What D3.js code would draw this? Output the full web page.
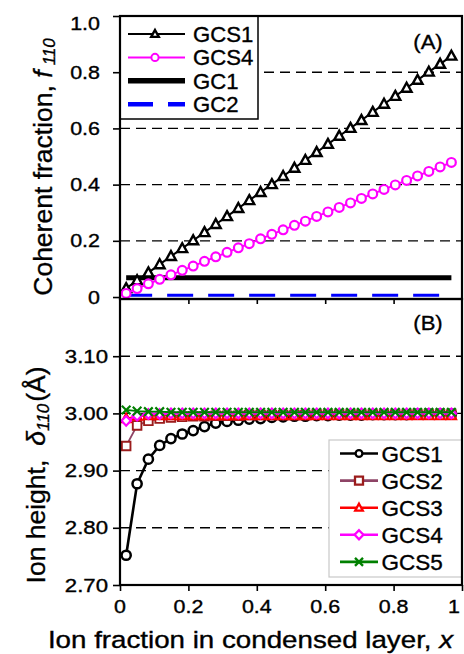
<!DOCTYPE html>
<html>
<head>
<meta charset="utf-8">
<script src="https://cdn.jsdelivr.net/npm/d3@7"></script>
<style>
  body { margin: 0; background: #fff; }
  svg { display: block; font-family: "Liberation Sans", Arial, sans-serif; }
  svg text { stroke: #000; stroke-width: 0.35px; }
</style>
</head>
<body>
<svg id="chart" width="464" height="654"></svg>
<script>
// Ion fraction in the condensed layer (shared by every series)
const xFrac = [0.018, 0.050, 0.083, 0.116, 0.149, 0.182, 0.214, 0.247, 0.280, 0.313,
               0.346, 0.378, 0.411, 0.444, 0.477, 0.510, 0.542, 0.575, 0.608, 0.641,
               0.674, 0.706, 0.739, 0.772, 0.805, 0.838, 0.870, 0.903, 0.936, 0.969];

// (A) coherent fraction f110
const fGCS1 = [0.031, 0.059, 0.087, 0.116, 0.145, 0.173, 0.201, 0.230, 0.259, 0.287,
               0.316, 0.344, 0.373, 0.401, 0.430, 0.459, 0.487, 0.515, 0.544, 0.573,
               0.601, 0.629, 0.658, 0.687, 0.715, 0.744, 0.772, 0.801, 0.829, 0.858];
const fGCS4 = [0.013, 0.030, 0.047, 0.063, 0.079, 0.095, 0.110, 0.127, 0.143, 0.159,
               0.175, 0.190, 0.207, 0.223, 0.239, 0.255, 0.270, 0.287, 0.303, 0.319,
               0.335, 0.351, 0.367, 0.383, 0.399, 0.415, 0.431, 0.447, 0.463, 0.479];
// GC models are flat: values at the first and last x
const fGC1 = [0.069, 0.069];
const fGC2 = [0.006, 0.006];

// (B) ion height delta110 (Angstrom)
const dGCS1 = [2.752, 2.877, 2.920, 2.944, 2.956, 2.964, 2.970, 2.977, 2.983, 2.986,
               2.988, 2.990, 2.991, 2.993, 2.994, 2.995, 2.995, 2.996, 2.996, 2.997,
               2.997, 2.997, 2.998, 2.998, 2.998, 2.998, 2.999, 2.999, 2.999, 2.999];
const dGCS2 = [2.943, 2.979, 2.987, 2.991, 2.993, 2.994, 2.995, 2.995, 2.996, 2.996,
               2.996, 2.997, 2.997, 2.997, 2.997, 2.997, 2.997, 2.998, 2.998, 2.998,
               2.998, 2.998, 2.998, 2.998, 2.998, 2.998, 2.998, 2.998, 2.998, 2.998];
const dGCS3 = [2.991, 2.995, 2.996, 2.996, 2.996, 2.996, 2.996, 2.996, 2.996, 2.996,
               2.996, 2.996, 2.996, 2.996, 2.996, 2.996, 2.996, 2.996, 2.996, 2.996,
               2.996, 2.996, 2.996, 2.996, 2.996, 2.996, 2.996, 2.996, 2.996, 2.996];
const dGCS4 = [2.987, 2.996, 2.999, 2.999, 3.000, 3.000, 3.000, 3.000, 3.000, 3.000,
               3.000, 3.000, 3.000, 3.000, 3.000, 3.000, 3.000, 3.000, 3.000, 3.000,
               3.000, 3.000, 3.000, 3.000, 3.000, 3.000, 3.000, 3.000, 3.000, 3.000];
const dGCS5 = [3.006, 3.004, 3.003, 3.003, 3.002, 3.002, 3.002, 3.002, 3.002, 3.002,
               3.002, 3.002, 3.002, 3.002, 3.002, 3.002, 3.002, 3.002, 3.002, 3.002,
               3.002, 3.002, 3.002, 3.002, 3.002, 3.002, 3.002, 3.002, 3.002, 3.002];

// Ticks
const xTicks = [0, 0.2, 0.4, 0.6, 0.8, 1];
const xTickLabels = ["0", "0.2", "0.4", "0.6", "0.8", "1"];
const fTicks = [0, 0.2, 0.4, 0.6, 0.8, 1.0];
const fTickLabels = ["0", "0.2", "0.4", "0.6", "0.8", "1.0"];
const fGrid = [0.2, 0.4, 0.6, 0.8];
const dTicks = [2.7, 2.8, 2.9, 3.0, 3.1];
const dTickLabels = ["2.70", "2.80", "2.90", "3.00", "3.10"];
const dGrid = [2.8, 2.9, 3.0, 3.1];

// ---- layout ----
const svg = d3.select("#chart");
const L = 120, R = 462;
const topA = 16, botA = 299, topB = 299, botB = 585;

const x = d3.scaleLinear().domain([0, 1]).range([L, R]);
const yA = d3.scaleLinear().domain([-0.007, 1.0]).range([botA, topA]);
const yB = d3.scaleLinear().domain([2.7, 3.2]).range([botB, topB]);

// horizontally widened text, as set in the figure
function txt(parent, px, py, s, size, k, anchor) {
  return parent.append("text")
    .attr("transform", `translate(${px},${py}) scale(${k},1)`)
    .attr("text-anchor", anchor || "start")
    .attr("font-size", size)
    .attr("fill", "#000")
    .text(s);
}

// marker shapes
const shapes = {
  triangle: s => `M0,${-s}L${s * 0.95},${s * 0.72}L${-s * 0.95},${s * 0.72}Z`,
  square: s => `M${-s},${-s}H${s}V${s}H${-s}Z`,
  diamond: s => `M0,${-s * 1.15}L${s * 1.1},0L0,${s * 1.15}L${-s * 1.1},0Z`,
  cross: s => `M${-s},${-s}L${s},${s}M${-s},${s}L${s},${-s}`
};
function marker(g, type, cx, cy, size, color, sw) {
  if (type === "circle") {
    g.append("circle").attr("cx", cx).attr("cy", cy).attr("r", size)
      .attr("fill", "#fff").attr("stroke", color).attr("stroke-width", sw);
  } else {
    g.append("path").attr("transform", `translate(${cx},${cy})`)
      .attr("d", shapes[type](size))
      .attr("fill", type === "cross" ? "none" : "#fff")
      .attr("stroke", color).attr("stroke-width", sw)
      .attr("stroke-linejoin", "miter");
  }
}

// ---- gridlines ----
const grid = svg.append("g").attr("stroke", "#000").attr("stroke-width", 1.4)
  .attr("stroke-dasharray", "10,6");
grid.selectAll(".ga").data(fGrid).join("line")
  .attr("x1", L).attr("x2", R).attr("y1", d => yA(d)).attr("y2", d => yA(d));
grid.selectAll(".gb").data(dGrid).join("line")
  .attr("x1", L).attr("x2", R).attr("y1", d => yB(d)).attr("y2", d => yB(d));

// ---- panel (A) series ----
const pA = svg.append("g");
const flatX = [xFrac[0], xFrac[xFrac.length - 1]];
const lineA = d3.line().x(d => x(d[0])).y(d => yA(d[1]));

pA.append("path").datum(d3.zip(flatX, fGC1)).attr("d", lineA)
  .attr("fill", "none").attr("stroke", "#000").attr("stroke-width", 5);
pA.append("path").datum(d3.zip(flatX, fGC2)).attr("d", lineA)
  .attr("fill", "none").attr("stroke", "#0000ff").attr("stroke-width", 3)
  .attr("stroke-dasharray", "26,15");

const seriesA = [
  { v: fGCS1, color: "#000", shape: "triangle", size: 5.2, sw: 2.4 },
  { v: fGCS4, color: "#ff00ff", shape: "circle", size: 4.4, sw: 2.2 }
];
seriesA.forEach(s => {
  const pts = d3.zip(xFrac, s.v);
  pA.append("path").datum(pts).attr("d", lineA)
    .attr("fill", "none").attr("stroke", s.color).attr("stroke-width", 2);
  const mg = pA.append("g");
  pts.forEach(p => marker(mg, s.shape, x(p[0]), yA(p[1]), s.size, s.color, s.sw));
});

// ---- panel (B) series ----
const pB = svg.append("g");
const lineB = d3.line().x(d => x(d[0])).y(d => yB(d[1]));
const seriesB = [
  { name: "GCS1", v: dGCS1, line: "#000", color: "#000", shape: "circle", size: 4.6, sw: 2.5, lw: 2.6 },
  { name: "GCS2", v: dGCS2, line: "#8e4466", color: "#9b1c1c", shape: "square", size: 4.3, sw: 1.9, lw: 1.8 },
  { name: "GCS3", v: dGCS3, line: "#ff0000", color: "#ff0000", shape: "triangle", size: 5, sw: 2, lw: 1.8 },
  { name: "GCS4", v: dGCS4, line: "#ff00ff", color: "#ff00ff", shape: "diamond", size: 4.2, sw: 2.2, lw: 1.8 },
  { name: "GCS5", v: dGCS5, line: "#008000", color: "#008000", shape: "cross", size: 4.3, sw: 2.2, lw: 1.8 }
];
seriesB.forEach(s => {
  const pts = d3.zip(xFrac, s.v);
  pB.append("path").datum(pts).attr("d", lineB)
    .attr("fill", "none").attr("stroke", s.line).attr("stroke-width", s.lw);
  const mg = pB.append("g");
  pts.forEach(p => marker(mg, s.shape, x(p[0]), yB(p[1]), s.size, s.color, s.sw));
});

// ---- legends ----
const legA = svg.append("g");
legA.append("rect").attr("x", L).attr("y", topA).attr("width", 138).attr("height", 103)
  .attr("fill", "#fff").attr("stroke", "#000").attr("stroke-width", 1.5);
const legAItems = [
  { name: "GCS1", color: "#000", w: 2.2, shape: "triangle", size: 4, sw: 2.4 },
  { name: "GCS4", color: "#ff00ff", w: 2, shape: "circle", size: 3.6, sw: 2 },
  { name: "GC1", color: "#000", w: 5.5 },
  { name: "GC2", color: "#0000ff", w: 4.5, dash: "25,15" }
];
legAItems.forEach((it, i) => {
  const cy = 34 + i * 23.4;
  legA.append("line").attr("x1", 128).attr("x2", 185).attr("y1", cy).attr("y2", cy)
    .attr("stroke", it.color).attr("stroke-width", it.w)
    .attr("stroke-dasharray", it.dash || null);
  if (it.shape) marker(legA, it.shape, 155, cy, it.size, it.color, it.sw);
  txt(legA, 193, cy + 7.8, it.name, 21.5, 1.03);
});

const legB = svg.append("g");
legB.append("rect").attr("x", 329).attr("y", 440).attr("width", R - 329).attr("height", 137)
  .attr("fill", "#fff").attr("stroke", "#c8c8c8").attr("stroke-width", 1.2);
seriesB.forEach((s, i) => {
  const cy = 453.5 + i * 27.1;
  legB.append("line").attr("x1", 340).attr("x2", 378).attr("y1", cy).attr("y2", cy)
    .attr("stroke", s.line).attr("stroke-width", 2.6);
  marker(legB, s.shape, 359, cy, s.shape === "circle" ? 3.4 : 4, s.color, 2.3);
  txt(legB, 381.5, cy + 8.2, s.name, 22.5, 1.0);
});

// ---- frames ----
svg.append("rect").attr("x", L).attr("y", topA).attr("width", R - L).attr("height", botA - topA)
  .attr("fill", "none").attr("stroke", "#000").attr("stroke-width", 2.2);
svg.append("rect").attr("x", L).attr("y", topB).attr("width", R - L).attr("height", botB - topB)
  .attr("fill", "none").attr("stroke", "#000").attr("stroke-width", 2.2);

// ---- axes ----
function styleAxis(g) {
  g.select(".domain").remove();
  g.selectAll(".tick line").attr("stroke", "#000").attr("stroke-width", 1.6);
}
const axA = svg.append("g").attr("transform", `translate(${L},0)`)
  .call(d3.axisLeft(yA).tickValues(fTicks).tickSize(7).tickFormat(() => ""));
styleAxis(axA);
const axB = svg.append("g").attr("transform", `translate(${L},0)`)
  .call(d3.axisLeft(yB).tickValues(dTicks).tickSize(7).tickFormat(() => ""));
styleAxis(axB);
const axXA = svg.append("g").attr("transform", `translate(0,${botA})`)
  .call(d3.axisBottom(x).tickValues(xTicks.slice(1, -1)).tickSize(5).tickFormat(() => ""));
styleAxis(axXA);
const axXB = svg.append("g").attr("transform", `translate(0,${botB})`)
  .call(d3.axisBottom(x).tickValues(xTicks).tickSize(6).tickFormat(() => ""));
styleAxis(axXB);

// tick labels
const labels = svg.append("g");
fTicks.forEach((t, i) => {
  const cy = Math.max(yA(t), 23.5);
  txt(labels, 100, cy + 6.6, fTickLabels[i], 18.5, 1.16, "end");
});
dTicks.forEach((t, i) => {
  txt(labels, 108, yB(t) + 6.6, dTickLabels[i], 18.5, 1.2, "end");
});
xTicks.forEach((t, i) => {
  const cx = Math.min(x(t), 454);
  txt(labels, cx, 613, xTickLabels[i], 18.5, 1.16, "middle");
});

// panel tags
txt(svg, 428, 49, "(A)", 21, 1.05, "middle");
txt(svg, 428, 330, "(B)", 21, 1.05, "middle");

// axis titles
const xt = txt(svg, 250.5, 648, "Ion fraction in condensed layer, ", 23.5, 1.18, "middle");
xt.append("tspan").attr("font-style", "italic").text("x");

const ytA = svg.append("text")
  .attr("transform", "translate(52,167) rotate(-90)")
  .attr("text-anchor", "middle").attr("font-size", 26.5);
ytA.append("tspan").text("Coherent fraction, ");
ytA.append("tspan").attr("font-style", "italic").text("f");
ytA.append("tspan").attr("font-style", "italic").attr("font-size", 17)
  .attr("dx", 5).attr("dy", 3).text("110");

const ytB = svg.append("text")
  .attr("transform", "translate(45,475) rotate(-90)")
  .attr("text-anchor", "middle").attr("font-size", 26.5);
ytB.append("tspan").text("Ion height,");
ytB.append("tspan").attr("font-style", "italic").attr("dx", 14).text("δ");
ytB.append("tspan").attr("font-style", "italic").attr("font-size", 17)
  .attr("dy", 4).text("110");
ytB.append("tspan").attr("dy", -4).attr("dx", 2).text("(Å)");
</script>
</body>
</html>
